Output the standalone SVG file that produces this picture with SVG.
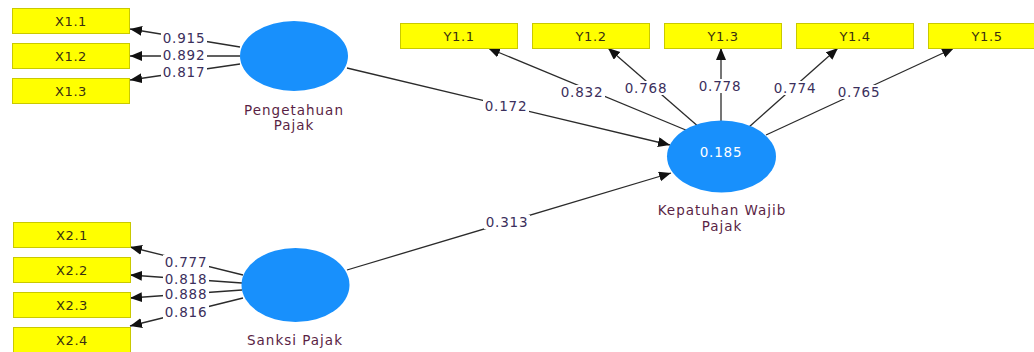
<svg xmlns="http://www.w3.org/2000/svg" width="1034" height="352" viewBox="0 0 1034 352">
<style>
.box{fill:#ffff00;stroke:#c9c900;stroke-width:1}
.lv{fill:#1890fc}
.bt{font-family:"DejaVu Sans",Verdana,sans-serif;font-size:13px;fill:#3a3010;text-anchor:middle;letter-spacing:0.6px}
.nm{font-family:"DejaVu Sans",Verdana,sans-serif;font-size:13.5px;fill:#5a1f45;text-anchor:middle;letter-spacing:1px}
.num{font-family:"DejaVu Sans",Verdana,sans-serif;font-size:13.5px;fill:#3b2f5c;text-anchor:middle;letter-spacing:0.8px}
.bg{fill:#ffffff}
.r2{font-family:"DejaVu Sans",Verdana,sans-serif;font-size:13.5px;fill:#ffffff;text-anchor:middle;letter-spacing:0.8px}
.ln{stroke:#2b2b2b;stroke-width:1.3;fill:none;marker-end:url(#ah)}
</style>
<defs>
<marker id="ah" markerUnits="userSpaceOnUse" markerWidth="14" markerHeight="12" refX="12" refY="5" orient="auto">
<path d="M0,0 L12,5 L0,10 Z" fill="#111"/>
</marker>
</defs>
<rect width="1034" height="352" fill="#fff"/>
<g id="connectors">
<line class="ln" x1="240" y1="47" x2="130" y2="29"/>
<line class="ln" x1="240" y1="56" x2="130" y2="56"/>
<line class="ln" x1="240" y1="64" x2="130" y2="80"/>
<line class="ln" x1="243" y1="275" x2="130" y2="247"/>
<line class="ln" x1="242" y1="283" x2="130" y2="275"/>
<line class="ln" x1="242" y1="290" x2="130" y2="298"/>
<line class="ln" x1="243" y1="298" x2="130" y2="326"/>
<line class="ln" x1="347" y1="68" x2="670" y2="145"/>
<line class="ln" x1="347" y1="270" x2="671" y2="173"/>
<line class="ln" x1="693" y1="133" x2="488" y2="48"/>
<line class="ln" x1="700" y1="128" x2="608" y2="48"/>
<line class="ln" x1="721" y1="121" x2="721" y2="48"/>
<line class="ln" x1="749" y1="127" x2="838" y2="48"/>
<line class="ln" x1="766" y1="135" x2="954" y2="48"/>
<rect class="bg" x="161" y="31" width="46" height="14"/>
<rect class="bg" x="161" y="48" width="46" height="14"/>
<rect class="bg" x="161" y="65" width="46" height="14"/>
<rect class="bg" x="163" y="255" width="46" height="14"/>
<rect class="bg" x="163" y="272" width="46" height="14"/>
<rect class="bg" x="163" y="287" width="46" height="14"/>
<rect class="bg" x="163" y="305" width="46" height="14"/>
<rect class="bg" x="483" y="99" width="46" height="14"/>
<rect class="bg" x="484" y="215" width="46" height="14"/>
<rect class="bg" x="559" y="85" width="46" height="14"/>
<rect class="bg" x="623" y="81" width="46" height="14"/>
<rect class="bg" x="697" y="79" width="46" height="14"/>
<rect class="bg" x="772" y="81" width="46" height="14"/>
<rect class="bg" x="836" y="85" width="46" height="14"/>
<text class="num" x="184" y="43">0.915</text>
<text class="num" x="184" y="60">0.892</text>
<text class="num" x="184" y="77">0.817</text>
<text class="num" x="186" y="267">0.777</text>
<text class="num" x="186" y="284">0.818</text>
<text class="num" x="186" y="299">0.888</text>
<text class="num" x="186" y="317">0.816</text>
<text class="num" x="506" y="111">0.172</text>
<text class="num" x="507" y="227">0.313</text>
<text class="num" x="582" y="97">0.832</text>
<text class="num" x="646" y="93">0.768</text>
<text class="num" x="720" y="91">0.778</text>
<text class="num" x="795" y="93">0.774</text>
<text class="num" x="859" y="97">0.765</text>
</g>
<g id="X1.1"><rect class="box" x="12.5" y="8.5" width="117" height="25"/><text class="bt" x="71" y="26">X1.1</text></g>
<g id="X1.2"><rect class="box" x="12.5" y="43.5" width="117" height="25"/><text class="bt" x="71" y="61">X1.2</text></g>
<g id="X1.3"><rect class="box" x="12.5" y="78.5" width="117" height="25"/><text class="bt" x="71" y="96">X1.3</text></g>
<g id="X2.1"><rect class="box" x="13.5" y="222.5" width="117" height="25"/><text class="bt" x="72" y="240">X2.1</text></g>
<g id="X2.2"><rect class="box" x="13.5" y="257.5" width="117" height="25"/><text class="bt" x="72" y="275">X2.2</text></g>
<g id="X2.3"><rect class="box" x="13.5" y="292.5" width="117" height="25"/><text class="bt" x="72" y="310">X2.3</text></g>
<g id="X2.4"><rect class="box" x="13.5" y="327.5" width="117" height="25"/><text class="bt" x="72" y="345">X2.4</text></g>
<g id="Y1.1"><rect class="box" x="400.5" y="23.5" width="117" height="25"/><text class="bt" x="459" y="41">Y1.1</text></g>
<g id="Y1.2"><rect class="box" x="532.5" y="23.5" width="117" height="25"/><text class="bt" x="591" y="41">Y1.2</text></g>
<g id="Y1.3"><rect class="box" x="664.5" y="23.5" width="117" height="25"/><text class="bt" x="723" y="41">Y1.3</text></g>
<g id="Y1.4"><rect class="box" x="796.5" y="23.5" width="117" height="25"/><text class="bt" x="855" y="41">Y1.4</text></g>
<g id="Y1.5"><rect class="box" x="928.5" y="23.5" width="117" height="25"/><text class="bt" x="987" y="41">Y1.5</text></g>
<g id="PengetahuanPajak"><ellipse class="lv" cx="294" cy="56" rx="54" ry="35"/><text class="nm" x="294" y="115">Pengetahuan</text><text class="nm" x="294" y="130">Pajak</text></g>
<g id="SanksiPajak"><ellipse class="lv" cx="295.5" cy="285" rx="54" ry="37"/><text class="nm" x="295" y="345">Sanksi Pajak</text></g>
<g id="KepatuhanWajibPajak"><ellipse class="lv" cx="721.5" cy="156.5" rx="54.5" ry="36"/><text class="r2" x="721" y="157">0.185</text><text class="nm" x="722" y="215">Kepatuhan Wajib</text><text class="nm" x="722" y="231">Pajak</text></g>
</svg>
